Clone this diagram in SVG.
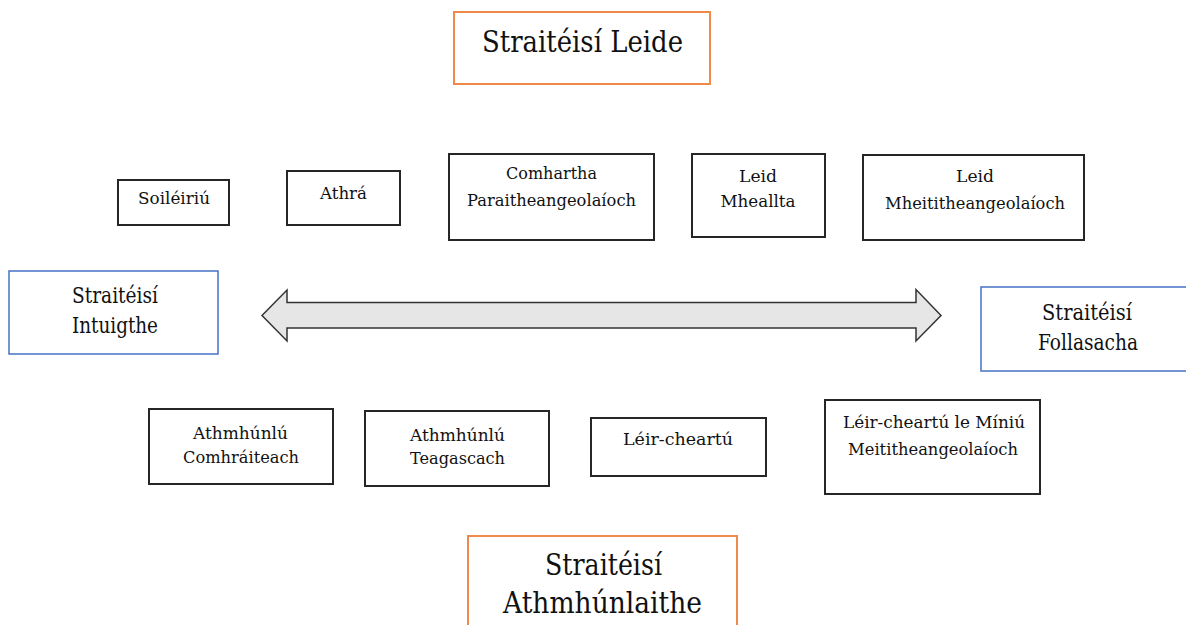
<svg xmlns="http://www.w3.org/2000/svg" width="1186" height="625" viewBox="0 0 1186 625">
<style>
.bg{fill:#ffffff}
.box{fill:#ffffff;stroke:#262626;stroke-width:2}
.orange{fill:#ffffff;stroke:#F08A4B;stroke-width:2}
.blue{fill:#ffffff;stroke:#4472C4;stroke-width:1.5}
text{font-family:"DejaVu Serif","Liberation Serif",serif;fill:#111111;text-anchor:middle}
.sm{font-size:17.5px}
.md{font-size:22px}
.lg{font-size:29px}
.arrow{fill:#E6E6E6;stroke:#333333;stroke-width:1.5;stroke-linejoin:miter}
</style>
<rect class="bg" x="0" y="0" width="1186" height="625"/>
<g id="straiteisi-leide">
<rect class="orange" x="454" y="12" width="256" height="72"/>
<text class="lg" x="582.5" y="52" textLength="201" lengthAdjust="spacingAndGlyphs">Straitéisí Leide</text>
</g>
<g id="soileiriu">
<rect class="box" x="118" y="180" width="111" height="45"/>
<text class="sm" x="174" y="204" textLength="72" lengthAdjust="spacingAndGlyphs">Soiléiriú</text>
</g>
<g id="athra">
<rect class="box" x="287" y="171" width="113" height="54"/>
<text class="sm" x="343.5" y="199" textLength="47" lengthAdjust="spacingAndGlyphs">Athrá</text>
</g>
<g id="comhartha">
<rect class="box" x="449" y="154" width="205" height="86"/>
<text class="sm" x="551.5" y="179" textLength="91" lengthAdjust="spacingAndGlyphs">Comhartha</text>
<text class="sm" x="551.5" y="206" textLength="169" lengthAdjust="spacingAndGlyphs">Paraitheangeolaíoch</text>
</g>
<g id="leid-mheallta">
<rect class="box" x="692" y="154" width="133" height="83"/>
<text class="sm" x="758" y="182" textLength="38" lengthAdjust="spacingAndGlyphs">Leid</text>
<text class="sm" x="758" y="207" textLength="75" lengthAdjust="spacingAndGlyphs">Mheallta</text>
</g>
<g id="leid-mheitith">
<rect class="box" x="863" y="155" width="221" height="85"/>
<text class="sm" x="975" y="182" textLength="38" lengthAdjust="spacingAndGlyphs">Leid</text>
<text class="sm" x="975" y="209" textLength="180" lengthAdjust="spacingAndGlyphs">Mheititheangeolaíoch</text>
</g>
<g id="intuigthe">
<rect class="blue" x="9" y="271" width="209" height="83"/>
<text class="md" x="115" y="303" textLength="86" lengthAdjust="spacingAndGlyphs">Straitéisí</text>
<text class="md" x="115" y="333" textLength="86" lengthAdjust="spacingAndGlyphs">Intuigthe</text>
</g>
<g id="follasacha">
<rect class="blue" x="981" y="287" width="215" height="84"/>
<text class="md" x="1087" y="320" textLength="90" lengthAdjust="spacingAndGlyphs">Straitéisí</text>
<text class="md" x="1088" y="350" textLength="100" lengthAdjust="spacingAndGlyphs">Follasacha</text>
</g>
<g id="connectors">
<path class="arrow" d="M262,315.5 L287,290 L287,302.5 L916,302.5 L916,289.5 L941,315.5 L916,341 L916,328 L287,328 L287,341 Z"/>
</g>
<g id="athmhunlu-comhraiteach">
<rect class="box" x="149" y="409" width="184" height="75"/>
<text class="sm" x="240.5" y="439" textLength="95" lengthAdjust="spacingAndGlyphs">Athmhúnlú</text>
<text class="sm" x="241" y="463" textLength="116" lengthAdjust="spacingAndGlyphs">Comhráiteach</text>
</g>
<g id="athmhunlu-teagascach">
<rect class="box" x="365" y="411" width="184" height="75"/>
<text class="sm" x="457.5" y="441" textLength="95" lengthAdjust="spacingAndGlyphs">Athmhúnlú</text>
<text class="sm" x="457.5" y="464" textLength="95" lengthAdjust="spacingAndGlyphs">Teagascach</text>
</g>
<g id="leir-cheartu">
<rect class="box" x="591" y="418" width="175" height="58"/>
<text class="sm" x="678" y="445" textLength="110" lengthAdjust="spacingAndGlyphs">Léir-cheartú</text>
</g>
<g id="leir-cheartu-miniu">
<rect class="box" x="825" y="400" width="215" height="94"/>
<text class="sm" x="934" y="428" textLength="182" lengthAdjust="spacingAndGlyphs">Léir-cheartú le Míniú</text>
<text class="sm" x="933" y="455" textLength="170" lengthAdjust="spacingAndGlyphs">Meititheangeolaíoch</text>
</g>
<g id="athmhunlaithe">
<rect class="orange" x="468" y="536" width="269" height="100"/>
<text class="lg" x="603.5" y="575" textLength="117" lengthAdjust="spacingAndGlyphs">Straitéisí</text>
<text class="lg" x="602.5" y="613" textLength="199" lengthAdjust="spacingAndGlyphs">Athmhúnlaithe</text>
</g>
</svg>
